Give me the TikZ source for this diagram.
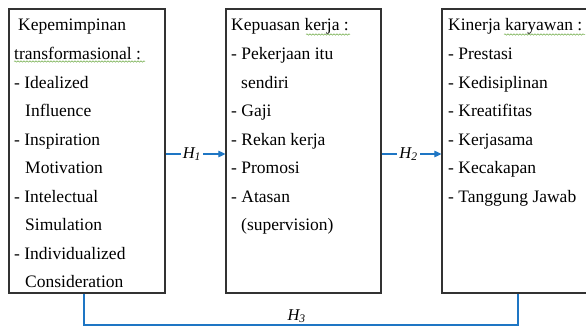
\documentclass[tikz,border=0pt]{standalone}
\usepackage{fontspec}
\setmainfont{Liberation Serif}
\usetikzlibrary{arrows.meta,decorations.pathmorphing}
\definecolor{boxline}{RGB}{50,50,50}
\definecolor{linkblue}{RGB}{30,118,196}
\definecolor{spell}{RGB}{110,170,70}
\tikzset{
  box/.style={draw=boxline, line width=1.2pt, rectangle, inner sep=0pt},
  item/.style={anchor=base west, inner sep=0pt, text=black,
               font=\fontsize{17.5}{21}\selectfont},
  link/.style={draw=linkblue, line width=1.1pt},
  hyp/.style={fill=white, inner sep=2pt, text=black,
              font=\fontsize{16.5}{18}\selectfont\itshape},
  squiggle/.style={draw=spell, line width=0.5pt,
                   decorate, decoration={snake, amplitude=0.7pt, segment length=3pt}}
}
\newcommand{\hyplabel}[1]{H\textsubscript{#1}}
\begin{document}
\begin{tikzpicture}[x=1pt, y=-1pt]
  \useasboundingbox (0,0) rectangle (586,326);

  % three blocks of the model
  \node[box, minimum width=156pt, minimum height=284pt] (lead) at (87,151) {};
  \node[box, minimum width=155pt, minimum height=284pt] (sat)  at (303.5,151) {};
  \node[box, minimum width=158pt, minimum height=284pt] (perf) at (521,151) {};

  % leadership block
  \foreach \t/\x [count=\i] in {Kepemimpinan/18, transformasional :/14,
      - Idealized/14, Influence/25, - Inspiration/14, Motivation/25,
      - Intelectual/14, Simulation/25, - Individualized/14, Consideration/25}
    \node[item] (lead-\i) at (\x, 31+28.55*\i-28.55) {\t};

  % job satisfaction block
  \foreach \t/\x [count=\i] in {Kepuasan kerja :/231, - Pekerjaan itu/231,
      sendiri/241, - Gaji/231, - Rekan kerja/231, - Promosi/231,
      - Atasan/231, (supervision)/241}
    \node[item] (sat-\i) at (\x, 31+28.55*\i-28.55) {\t};

  % employee performance block
  \foreach \t [count=\i] in {Kinerja karyawan :, - Prestasi, - Kedisiplinan,
      - Kreatifitas, - Kerjasama, - Kecakapan, - Tanggung Jawab}
    \node[item] (perf-\i) at (448, 31+28.55*\i-28.55) {\t};

  % proofing marks under some headings
  \draw[squiggle] (14,61.5) -- (145,61.5);
  \draw[squiggle] (306,34.5) -- (350,34.5);
  \draw[squiggle] (504,34.5) -- (585,34.5);

  % hypotheses
  \coordinate (hrow) at (0,154);
  \draw[link, -{Triangle[length=7pt, width=6.5pt]}]
    (lead.east |- hrow) -- node[hyp, pos=0.44] (h1) {\hyplabel{1}} (sat.west |- hrow);
  \draw[link, -{Triangle[length=7pt, width=6.5pt]}]
    (sat.east |- hrow) -- node[hyp, pos=0.45] (h2) {\hyplabel{2}} (perf.west |- hrow);

  \coordinate (h3l) at (84,325);
  \coordinate (h3r) at (518,325);
  \draw[link] (lead.south -| h3l) -- (h3l)
    -- node[pos=0.49, above=0pt, inner sep=1.5pt, text=black,
            font=\fontsize{16.5}{18}\selectfont\itshape] (h3) {\hyplabel{3}} (h3r)
    -- (perf.south -| h3r);
\end{tikzpicture}
\end{document}
